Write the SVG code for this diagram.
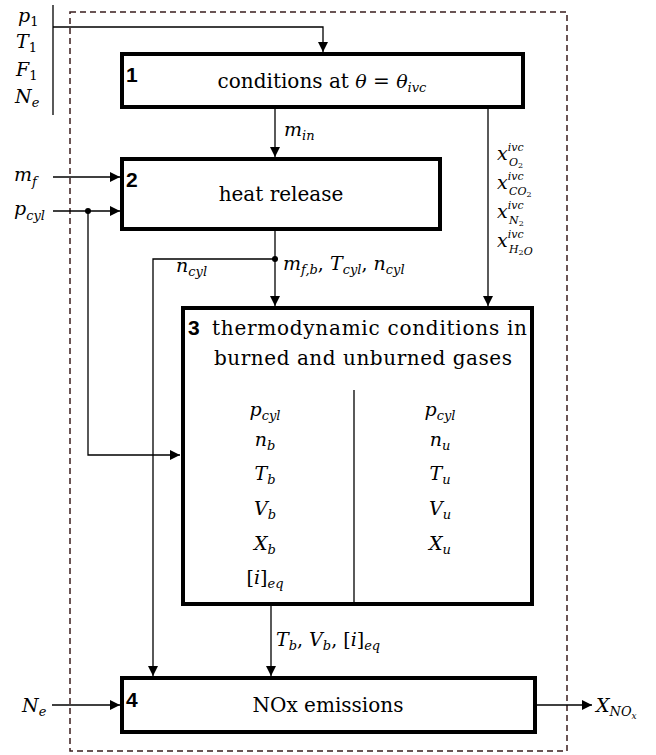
<svg xmlns="http://www.w3.org/2000/svg" width="656" height="755" viewBox="0 0 656 755">
<style>
.box{fill:#fff;stroke:#000;stroke-width:4}
.ln{fill:none;stroke:#000;stroke-width:1.3}
.num{font-family:"Liberation Sans",Arial,sans-serif;font-weight:bold;font-size:21px}
.rm{font-family:"DejaVu Serif","Liberation Serif",serif;font-size:20px}
.m{font-family:"DejaVu Serif","Liberation Serif",serif;font-size:19px;font-style:italic}
.s{font-size:13px}
.xs{font-size:11px}
.r{font-style:normal}
</style>
<defs>
<marker id="ar" viewBox="0 0 10 10" refX="10" refY="5" markerWidth="10" markerHeight="10" markerUnits="userSpaceOnUse" orient="auto">
<path d="M0,0 L10,5 L0,10 z" fill="#000"/>
</marker>
</defs>
<rect x="70" y="12" width="497" height="739" fill="none" stroke="#3a1c1c" stroke-width="1.5" stroke-dasharray="6,4"/>
<g id="connectors">
<path class="ln" d="M53,5 V115"/>
<path class="ln" d="M53,27 H323 V52" marker-end="url(#ar)"/>
<path class="ln" d="M275,107 V157" marker-end="url(#ar)"/>
<path class="ln" d="M488,107 V306" marker-end="url(#ar)"/>
<path class="ln" d="M53,177 H120" marker-end="url(#ar)"/>
<path class="ln" d="M53,211 H120" marker-end="url(#ar)"/>
<path class="ln" d="M88,211 V455 H180" marker-end="url(#ar)"/>
<circle cx="88" cy="211" r="3" fill="#000"/>
<path class="ln" d="M275,229 V306" marker-end="url(#ar)"/>
<path class="ln" d="M275,259 H153 V676" marker-end="url(#ar)"/>
<circle cx="275" cy="259" r="3" fill="#000"/>
<path class="ln" d="M271,604 V676" marker-end="url(#ar)"/>
<path class="ln" d="M52,705 H120" marker-end="url(#ar)"/>
<path class="ln" d="M535,705 H592" marker-end="url(#ar)"/>
</g>
<g id="labels">
<text class="m" x="18" y="22">p<tspan class="s r" dy="4">1</tspan></text>
<text class="m" x="16" y="48">T<tspan class="s r" dy="4">1</tspan></text>
<text class="m" x="16" y="76">F<tspan class="s r" dy="4">1</tspan></text>
<text class="m" x="15" y="103">N<tspan class="s" dy="4">e</tspan></text>
<text class="m" x="14" y="181">m<tspan class="s" dy="5">f</tspan></text>
<text class="m" x="14" y="215">p<tspan class="s" dy="5">cyl</tspan></text>
<text class="m" x="284" y="136">m<tspan class="s" dy="4">in</tspan></text>
<text class="m" x="176" y="272">n<tspan class="s" dy="4">cyl</tspan></text>
<text class="m" x="283" y="270">m<tspan class="s" dy="4">f,b</tspan><tspan class="r" dy="-4">, </tspan>T<tspan class="s" dy="4">cyl</tspan><tspan class="r" dy="-4">, </tspan>n<tspan class="s" dy="4">cyl</tspan></text>
<text class="m" x="497" y="160">x<tspan class="xs" dy="-9">ivc</tspan><tspan class="xs" x="509" dy="15">O<tspan class="r" font-size="8" dy="2">2</tspan></tspan></text>
<text class="m" x="497" y="189">x<tspan class="xs" dy="-9">ivc</tspan><tspan class="xs" x="509" dy="15">CO<tspan class="r" font-size="8" dy="2">2</tspan></tspan></text>
<text class="m" x="497" y="218">x<tspan class="xs" dy="-9">ivc</tspan><tspan class="xs" x="509" dy="15">N<tspan class="r" font-size="8" dy="2">2</tspan></tspan></text>
<text class="m" x="497" y="247">x<tspan class="xs" dy="-9">ivc</tspan><tspan class="xs" x="509" dy="15">H<tspan class="r" font-size="8" dy="2">2</tspan>O</tspan></text>
<text class="m" x="276" y="646">T<tspan class="s" dy="4">b</tspan><tspan class="r" dy="-4">, </tspan>V<tspan class="s" dy="4">b</tspan><tspan class="r" dy="-4">, [</tspan>i<tspan class="r">]</tspan><tspan class="s" dy="4">eq</tspan></text>
<text class="m" x="22" y="712">N<tspan class="s" dy="4">e</tspan></text>
<text class="m" x="596" y="712">X<tspan class="s" dy="4">NO</tspan><tspan font-size="9" dy="3">x</tspan></text>
</g>
<g id="node1">
<rect class="box" x="122" y="54" width="401" height="53"/>
<text class="num" x="126" y="82">1</text>
<text class="rm" x="322" y="88" text-anchor="middle">conditions at <tspan class="m">θ</tspan> = <tspan class="m">θ</tspan><tspan class="m s" dy="4">ivc</tspan></text>
</g>
<g id="node2">
<rect class="box" x="122" y="159" width="318" height="70"/>
<text class="num" x="126" y="187">2</text>
<text class="rm" x="281" y="201" text-anchor="middle">heat release</text>
</g>
<g id="node3">
<rect class="box" x="183" y="308" width="349" height="296"/>
<path class="ln" d="M354,390 V604"/>
<text class="num" x="188" y="335">3</text>
<text class="rm" x="212" y="335" textLength="315">thermodynamic conditions in</text>
<text class="rm" x="214" y="365" textLength="298">burned and unburned gases</text>
<g class="m" text-anchor="middle">
<text x="265" y="416">p<tspan class="s" dy="4">cyl</tspan></text>
<text x="265" y="446">n<tspan class="s" dy="4">b</tspan></text>
<text x="265" y="480">T<tspan class="s" dy="4">b</tspan></text>
<text x="265" y="515">V<tspan class="s" dy="4">b</tspan></text>
<text x="265" y="550">X<tspan class="s" dy="4">b</tspan></text>
<text x="265" y="584"><tspan class="r">[</tspan>i<tspan class="r">]</tspan><tspan class="s" dy="4">eq</tspan></text>
<text x="440" y="416">p<tspan class="s" dy="4">cyl</tspan></text>
<text x="440" y="446">n<tspan class="s" dy="4">u</tspan></text>
<text x="440" y="480">T<tspan class="s" dy="4">u</tspan></text>
<text x="440" y="515">V<tspan class="s" dy="4">u</tspan></text>
<text x="440" y="550">X<tspan class="s" dy="4">u</tspan></text>
</g>
</g>
<g id="node4">
<rect class="box" x="122" y="678" width="413" height="54"/>
<text class="num" x="126" y="707">4</text>
<text class="rm" x="328" y="712" text-anchor="middle">NOx emissions</text>
</g>
</svg>
